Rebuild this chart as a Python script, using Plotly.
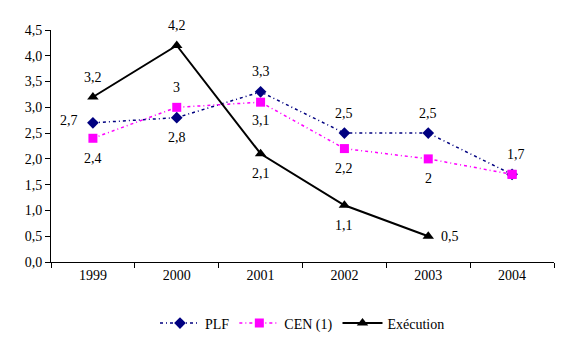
import plotly.graph_objects as go

years = ["1999", "2000", "2001", "2002", "2003", "2004"]
plf = [2.7, 2.8, 3.3, 2.5, 2.5, 1.7]
cen = [2.4, 3.0, 3.1, 2.2, 2.0, 1.7]
exe = [3.2, 4.2, 2.1, 1.1, 0.5]

plf_labels = ["2,7", "2,8", "3,3", "2,5", "2,5", "1,7"]
cen_labels = ["2,4", "3", "3,1", "2,2", "2", ""]
exe_labels = ["3,2", "4,2", "2,1", "1,1", "0,5"]

# label offsets (pixels): (xshift, yshift)
plf_off = [(-24, 2), (0, -20), (0, 20), (0, 20), (0, 20), (4, 20)]
cen_off = [(0, -20), (0, 20), (0, -18), (0, -20), (0, -20), (0, 0)]
exe_off = [(0, 20), (0, 20), (0, -20), (0, -20), (22, 0)]

FONT = "Liberation Serif"

fig = go.Figure()
# PLF drawn first so that CEN markers sit on top (legend order kept by legendrank)
fig.add_trace(go.Scatter(
    x=years, y=plf, name="PLF", mode="lines+markers", legendrank=1,
    line=dict(color="#000080", width=1.5, dash="3px,3px,1px,3px"),
    marker=dict(symbol="diamond", size=9, color="#000080"),
))
fig.add_trace(go.Scatter(
    x=years, y=cen, name="CEN (1)", mode="lines+markers", legendrank=2,
    line=dict(color="#FF00FF", width=1.5, dash="3px,3px,1px,3px"),
    marker=dict(symbol="square", size=9, color="#FF00FF"),
))
fig.add_trace(go.Scatter(
    x=years[:len(exe)], y=exe, name="Exécution", mode="lines+markers", legendrank=3,
    line=dict(color="#000000", width=2),
    marker=dict(symbol="triangle-up", size=10, color="#000000"),
))
# overlay of CEN's last marker so the square covers the coincident diamond
fig.add_trace(go.Scatter(
    x=years[-1:], y=cen[-1:], mode="markers", showlegend=False, hoverinfo="skip",
    marker=dict(symbol="square", size=9, color="#FF00FF"),
))

annotations = []
for ys, labs, offs in [(plf, plf_labels, plf_off),
                       (cen, cen_labels, cen_off),
                       (exe, exe_labels, exe_off)]:
    for i, (y, t, (dx, dy)) in enumerate(zip(ys, labs, offs)):
        if not t:
            continue
        annotations.append(dict(x=i, y=y, xref="x", yref="y", text=t, showarrow=False,
                                xshift=dx, yshift=dy,
                                font=dict(family=FONT, size=14, color="black")))

fig.update_layout(
    width=572, height=352,
    margin=dict(l=51, r=18, t=30, b=84),
    paper_bgcolor="white", plot_bgcolor="white",
    separators=", ",
    font=dict(family=FONT, size=14, color="black"),
    showlegend=True,
    legend=dict(orientation="h", x=0.5, xanchor="center", y=-0.265, yanchor="middle",
                font=dict(family=FONT, size=14), itemwidth=40, tracegroupgap=0),
    annotations=annotations,
)
fig.update_xaxes(type="category", showline=True, linecolor="black", linewidth=1,
                 ticks="outside", ticklen=5, tickcolor="black", tickson="boundaries",
                 showgrid=False, zeroline=False, range=[-0.5, 5.5])
fig.update_yaxes(range=[0, 4.5], dtick=0.5, tickformat=".1f", showline=True,
                 linecolor="black", linewidth=1, ticks="outside", ticklen=5,
                 tickcolor="black", showgrid=False, zeroline=False)

fig.write_html("out.html")
